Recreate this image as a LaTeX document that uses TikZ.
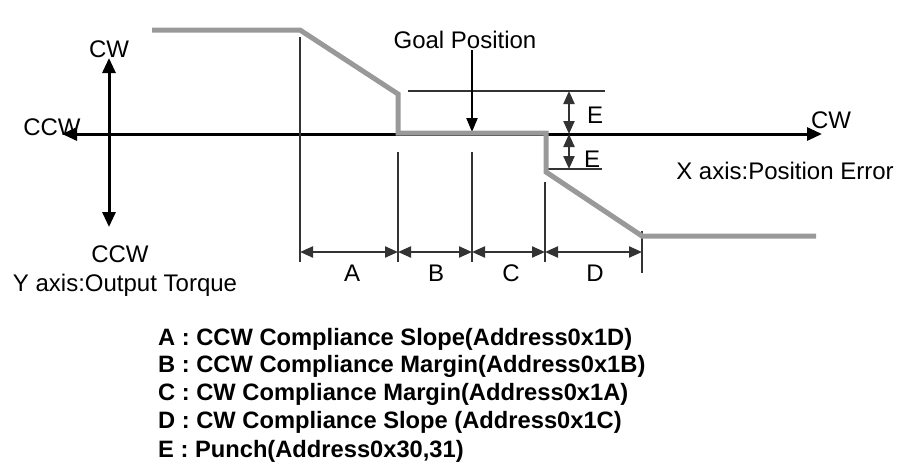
\documentclass[tikz,border=0pt]{standalone}
\usepackage{fontspec}
\setmainfont{Liberation Sans}
\usetikzlibrary{arrows.meta}
\definecolor{curvegray}{HTML}{999999}
\definecolor{dimgray}{HTML}{333333}
\begin{document}
\begin{tikzpicture}[x=1pt,y=-1pt,
  lbl/.style={inner sep=0pt, anchor=base, font=\fontsize{24}{28}\selectfont},
  leg/.style={inner sep=0pt, anchor=base west, font=\fontsize{23.7}{28}\selectfont\bfseries},
  axisline/.style={line width=3pt, draw=black},
  axtips/.style={{Triangle[length=15pt,width=13pt]}-{Triangle[length=15pt,width=13pt]}},
  curve/.style={line width=5pt, draw=curvegray, line join=miter},
  guide/.style={line width=2.2pt, draw=dimgray},
  dimarrow/.style={guide, {Triangle[length=13pt,width=11pt]}-{Triangle[length=13pt,width=11pt]}}
]
\useasboundingbox (0,0) rectangle (902,475);

% axes
\coordinate (xl) at (62,134);
\coordinate (xr) at (822,134);
\coordinate (yt) at (109,58);
\coordinate (yb) at (109,227);
\draw[axisline, axtips] (xl) -- (xr);
\draw[axisline, axtips] (yt) -- (yb);

% vertical guides
\coordinate (va1) at (300,37);  \coordinate (va2) at (300,262);
\coordinate (vb1) at (398,152); \coordinate (vb2) at (398,262);
\coordinate (vc1) at (472,152); \coordinate (vc2) at (472,262);
\coordinate (vd1) at (545,182); \coordinate (vd2) at (545,262);
\coordinate (ve1) at (642,231); \coordinate (ve2) at (642,273);
\draw[guide] (va1) -- (va2);
\draw[guide] (vb1) -- (vb2);
\draw[guide] (vc1) -- (vc2);
\draw[guide] (vd1) -- (vd2);
\draw[guide] (ve1) -- (ve2);

% dimension arrows
\coordinate (da) at (300,252);
\coordinate (db) at (398,252);
\coordinate (dc) at (472,252);
\coordinate (dd) at (545,252);
\coordinate (de) at (642,252);
\draw[dimarrow] (da) -- (db);
\draw[dimarrow] (db) -- (dc);
\draw[dimarrow] (dc) -- (dd);
\draw[dimarrow] (dd) -- (de);

% E reference lines
\coordinate (eu1) at (408,91);  \coordinate (eu2) at (605,91);
\coordinate (el1) at (545,169); \coordinate (el2) at (602,169);
\draw[guide] (eu1) -- (eu2);
\draw[guide] (el1) -- (el2);
\coordinate (ea) at (569,91);
\coordinate (eb) at (569,134);
\coordinate (ec) at (569,169);
\draw[dimarrow] (ea) -- (eb);
\draw[dimarrow] (eb) -- (ec);

% goal position arrow
\coordinate (g1) at (472,50);
\coordinate (g2) at (472,132);
\draw[guide, draw=black, -{Triangle[length=14pt,width=11pt]}] (g1) -- (g2);

% compliance curve
\coordinate (c0) at (152,30);
\coordinate (c1) at (300,30);
\coordinate (c2) at (398,94);
\coordinate (c3) at (398,133);
\coordinate (c4) at (546,133);
\coordinate (c5) at (546,172);
\coordinate (c6) at (642,236);
\coordinate (c7) at (816,236);
\draw[curve] (c0) -- (c1) -- (c2) -- (c3) -- (c4) -- (c5) -- (c6) -- (c7);

% labels
\node[lbl] (cwtop) at (109,57) {CW};
\node[lbl] (ccwleft) at (52,135) {CCW};
\node[lbl] (ccwbot) at (120,262) {CCW};
\node[lbl] (yaxis) at (125,291) {Y axis:Output Torque};
\node[lbl] (goal) at (465,48) {Goal Position};
\node[lbl] (eup) at (595,123) {E};
\node[lbl] (elow) at (592,167) {E};
\node[lbl] (cwright) at (831,128) {CW};
\node[lbl] (xaxis) at (785,179) {X axis:Position Error};
\node[lbl] (la) at (352,281) {A};
\node[lbl] (lb) at (436,281) {B};
\node[lbl] (lc) at (511,281) {C};
\node[lbl] (ld) at (595,281) {D};

% legend
\node[leg] (lega) at (158,345) {A : CCW Compliance Slope(Address0x1D)};
\node[leg] (legb) at (158,372) {B : CCW Compliance Margin(Address0x1B)};
\node[leg] (legc) at (158,400) {C : CW Compliance Margin(Address0x1A)};
\node[leg] (legd) at (158,428) {D : CW Compliance Slope (Address0x1C)};
\node[leg] (lege) at (158,457) {E : Punch(Address0x30,31)};
\end{tikzpicture}
\end{document}
